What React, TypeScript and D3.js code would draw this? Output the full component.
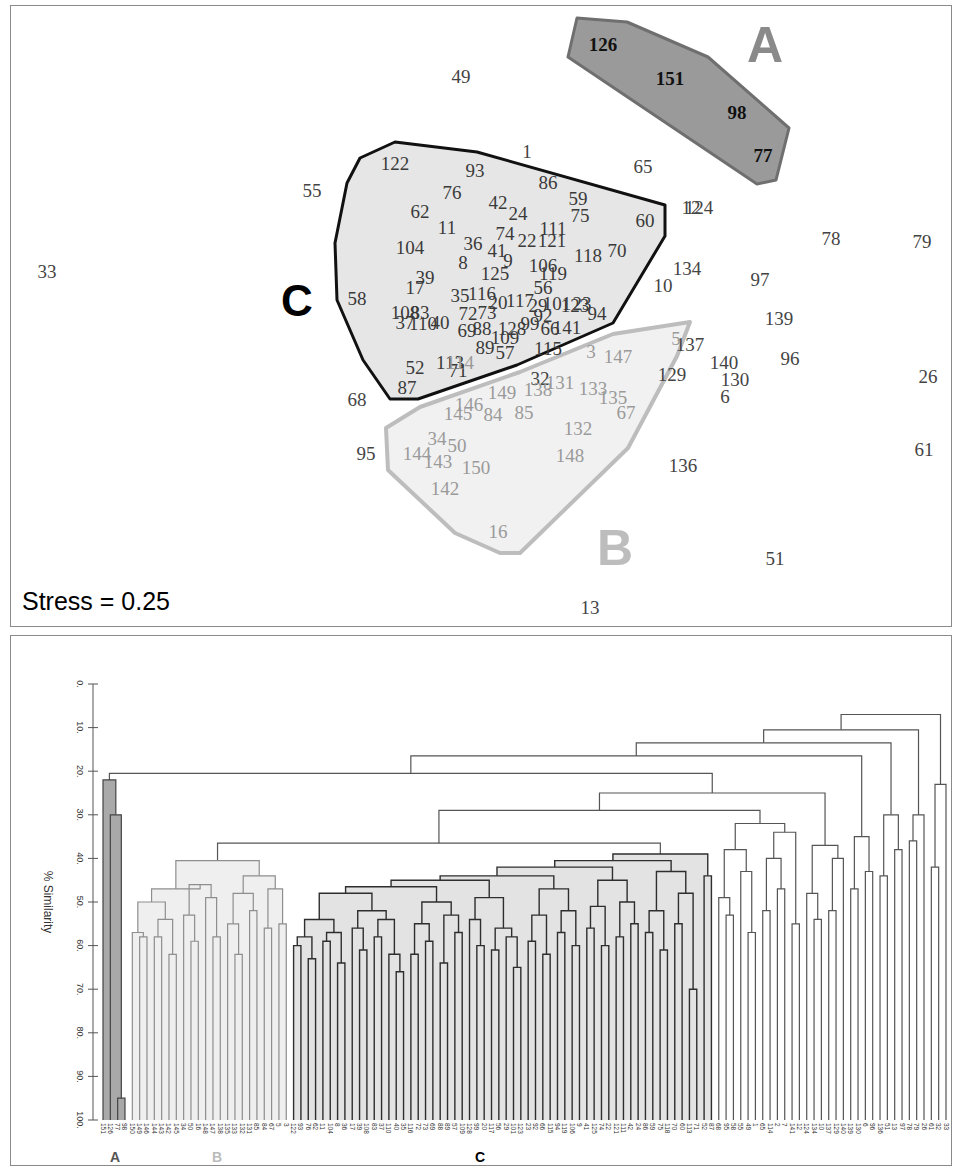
import * as React from 'react';
import * as d3 from 'd3';

// ---- MDS ordination scores (arbitrary units): label, dim1, dim2 ----
const mdsOther: [string, number, number][] = [
  ['49', -10.5, 120], ['1', 22.5, 82.5], ['65', 80.5, 75], ['55', -85, 63],
  ['33', -217.5, 22.5], ['12', 104.5, 54.5], ['124', 108.5, 54.5], ['78', 174.5, 39],
  ['79', 220, 37.5], ['97', 139, 18.5], ['134', 102.5, 24], ['10', 90.5, 15.5],
  ['139', 148.5, -1], ['137', 104, -14], ['140', 121, -23], ['96', 154, -21],
  ['130', 126.5, -31.5], ['6', 121.5, -40], ['129', 95, -29], ['26', 223, -30],
  ['61', 221, -66.5], ['136', 100.5, -74.5], ['51', 146.5, -121], ['13', 54, -145.5],
  ['68', -62.5, -41.5], ['95', -58, -68.5], ['32', 29, -31],
];
const mdsA: [string, number, number][] = [
  ['126', 60.5, 136], ['151', 94, 119], ['98', 127.5, 102], ['77', 140.5, 80.5],
];
const mdsB: [string, number, number][] = [
  ['5', 97, -11], ['3', 54.5, -17.5], ['147', 68, -20], ['149', 10, -38],
  ['138', 28, -36.5], ['131', 39, -33], ['133', 55.5, -36], ['135', 65.5, -40.5],
  ['146', -6.5, -44], ['145', -12, -48.5], ['84', 5.5, -49], ['85', 21, -48],
  ['67', 72, -48], ['34', -22.5, -61], ['50', -12.5, -64.5], ['132', 48, -56],
  ['144', -32.5, -68.5], ['143', -22, -72.5], ['150', -3, -75.5], ['148', 44, -69.5],
  ['142', -18.5, -86], ['16', 8, -107.5], ['114', -11, -23],
];
const mdsC: [string, number, number][] = [
  ['122', -43.5, 76.5], ['93', -3.5, 73], ['76', -15, 62], ['86', 33, 67],
  ['62', -31, 52.5], ['42', 8, 57], ['24', 18, 51.5], ['59', 48, 59],
  ['75', 49, 50.5], ['60', 81.5, 48], ['11', -17.5, 44.5], ['74', 11.5, 41.5],
  ['22', 22.5, 38], ['121', 35, 38], ['111', 35.5, 44], ['104', -36, 34.5],
  ['36', -4.5, 36.5], ['41', 7.5, 33], ['9', 13, 28], ['118', 53, 30.5],
  ['70', 67.5, 33], ['8', -9.5, 27], ['125', 6.5, 21.5], ['106', 30.5, 25.5],
  ['119', 35.5, 21.5], ['17', -33.5, 14.5], ['39', -28.5, 19.5], ['58', -62.5, 9],
  ['35', -11, 10.5], ['116', 0, 11.5], ['20', 8, 7], ['117', 19, 8],
  ['56', 30.5, 14.5], ['29', 28, 5.5], ['101', 37.5, 6.5], ['123', 46.5, 5.5],
  ['23', 50, 6.5], ['94', 57.5, 1.5], ['108', -38.5, 2], ['83', -31, 2],
  ['37', -38.5, -3], ['110', -29.5, -3.5], ['40', -21, -3], ['72', -7, 1.5],
  ['73', 2.5, 2], ['69', -7.5, -7], ['88', 0, -6], ['128', 15, -6],
  ['99', 24, -3.5], ['109', 11.5, -10.5], ['92', 30.5, 0.5], ['66', 34, -6],
  ['141', 42.5, -5.5], ['89', 1.5, -15.5], ['57', 11.5, -18], ['115', 33, -16],
  ['52', -33.5, -25.5], ['113', -16, -23], ['71', -12, -27], ['87', -37.5, -35.5],
];

// outlines drawn round the groups (same units)
const hullA: [number, number][] = [
  [47.5, 149], [72.5, 147], [113, 129.5], [153.5, 94], [147, 68], [137.5, 66], [43, 129.5],
];
const hullB: [number, number][] = [
  [-48, -56], [-31, -45.5], [19, -28], [65.5, -9], [104, -3], [97.5, -20], [73, -66],
  [19, -118.5], [9, -118.5], [-13.5, -108.5], [-47, -77],
];
const hullC: [number, number][] = [
  [-43.5, 87], [-2.5, 82], [91.5, 55.5], [91.5, 40], [65.5, -3.5], [17.5, -24.5],
  [-32, -41.5], [-46, -41.5], [-59.5, -22], [-72.5, 8], [-73.5, 36.5], [-67.5, 66.5], [-61, 79],
];
const groupLetters: [string, number, number][] = [['A', 141.5, 135.5], ['B', 66.5, -116], ['C', -92.5, 8]];

// ---- cluster dendrogram: [% similarity, child, child] ----
const groupA: any = [22, '151', [30, '126', [95, '77', '98']]];
const groupB: any = [40.5,
  [47,
    [50, [57, '150', [58, '149', '146']], [54, [58, '144', '143'], [62, '142', '145']]],
    [46, [53, '34', [59, '50', '16']], [49, '148', [58, '147', '138']]]],
  [44,
    [48, [55, '135', [62, '133', '132']], [52, '131', '85']],
    [47, [56, '84', '67'], [55, '5', '3']]]];
const clusterC1: any = [54, [58, [60, '122', '93'], [63, '76', '62']], [57, [59, '11', '104'], [64, '8', '36']]];
const clusterC2: any = [52, [56, '17', [61, '39', '108']], [54, [58, '83', '37'], [62, '110', [66, '40', '35']]]];
const clusterC3: any = [50, [55, [62, '116', '72'], [59, '73', '69']], [53, [64, '88', '89'], [57, '57', '109']]];
const clusterC4: any = [49, [54, '128', [60, '99', '20']], [56, [61, '117', '56'], [58, '29', [65, '101', '123']]]];
const clusterC5: any = [47, [53, [59, '23', '92'], [62, '66', '115']], [52, [57, '94', '119'], [60, '106', '9']]];
const clusterC6: any = [45, [51, [56, '41', '125'], [60, '74', '22']], [50, [58, '121', '111'], [55, '42', '24']]];
const clusterC7: any = [43, [52, [57, '86', '59'], [61, '75', '118']], [48, [55, '70', '60'], [70, '113', '71']]];
const clusterC8: any = [44, '52', '87'];
const groupC: any = [39,
  [40.5,
    [42,
      [44,
        [45,
          [46.5, [48, clusterC1, clusterC2], clusterC3],
          clusterC4],
        clusterC5],
      clusterC6],
    clusterC7],
  clusterC8];
const groupO1: any = [32,
  [38, [49, '68', [53, '95', '58']], [43, '55', [57, '49', '1']]],
  [34, [40, [52, '65', '114'], [47, '2', '7']], [55, '141', '12']]];
const groupO2: any = [37, [48, '124', [54, '134', '10']], [40, [52, '137', '129'], '140']];
const groupO3: any = [35, [47, '139', '130'], [43, '6', '96']];
const groupO4: any = [30, [44, '136', '51'], [38, '13', '97']];
const groupO5: any = [30, [36, '78', '79'], '26'];
const groupO6: any = [23, [42, '61', '32'], '33'];
const treeSpec: any = [7,
  [10.5,
    [13.5,
      [16.5,
        [20.5, groupA, [25, [29, [36.5, groupB, groupC], groupO1], groupO2]],
        groupO3],
      groupO4],
    groupO5],
  groupO6];
const simTicks = [0, 10, 20, 30, 40, 50, 60, 70, 80, 90, 100];

const groupTags = new Map<any, string>([[groupA, 'A'], [groupB, 'B'], [groupC, 'C']]);
function build(spec: any, tag?: string): any {
  if (typeof spec === 'string') return { name: spec, sim: 100, tag };
  const t = groupTags.get(spec) ?? tag;
  return { sim: spec[0], tag: t, children: spec.slice(1).map((s: any) => build(s, t)) };
}

const serif = "'Liberation Serif', 'Times New Roman', serif";
const sans = "'Liberation Sans', Arial, sans-serif";

export default function App() {
  const W = 956, H = 1168;
  const mx = d3.scaleLinear().domain([-235, 235]).range([12, 952]);
  const my = d3.scaleLinear().domain([-155.5, 155.5]).range([627, 5]);
  const poly = (pts: [number, number][]) => pts.map(p => `${mx(p[0])},${my(p[1])}`).join(' ');

  const root: any = d3.hierarchy(build(treeSpec));
  const leaves = root.leaves();
  const dx = d3.scalePoint<string>().domain(leaves.map((d: any) => d.data.name)).range([103, 946]);
  const dy = d3.scaleLinear().domain([0, 100]).range([684, 1120]);
  root.eachAfter((n: any) => {
    n.px = n.children ? (n.children[0].px + n.children[n.children.length - 1].px) / 2 : dx(n.data.name);
    n.py = dy(n.data.sim);
  });
  const internals = root.descendants().filter((n: any) => n.children);
  const fillCol: any = { A: '#a9a9a9', B: '#efefef', C: '#e3e3e3' };
  const lineCol: any = { A: '#444', B: '#8e8e8e', C: '#2e2e2e' };

  const labelSet = (data: [string, number, number][], fill: string, weight = 'normal') =>
    data.map(([t, u, v]) => (
      <text key={t + u} x={mx(u)} y={my(v)} fill={fill} fontWeight={weight}
        textAnchor="middle" dominantBaseline="central" fontFamily={serif} fontSize={19}>{t}</text>
    ));

  return (
    <svg width={W} height={H} style={{ position: 'absolute', left: 0, top: 0, background: '#fff' }}>
      {/* ---------- MDS panel ---------- */}
      <rect x={10.5} y={5.5} width={941} height={621} fill="#fff" stroke="#8a8a8a" />
      <polygon points={poly(hullB)} fill="#f1f1f1" stroke="#bdbdbd" strokeWidth={4} strokeLinejoin="round" />
      <polygon points={poly(hullC)} fill="#e6e6e6" stroke="#111" strokeWidth={3} strokeLinejoin="round" />
      <polygon points={poly(hullA)} fill="#9a9a9a" stroke="#6f6f6f" strokeWidth={3} strokeLinejoin="round" />
      {labelSet(mdsOther, '#444')}
      {labelSet(mdsC, '#3a3a3a')}
      {labelSet(mdsB, '#9a9a9a')}
      {labelSet(mdsA, '#111', 'bold')}
      {groupLetters.map(([t, u, v]) => (
        <text key={t} x={mx(u)} y={my(v)} textAnchor="middle" dominantBaseline="central"
          fontFamily={sans} fontWeight="bold" fontSize={t === 'C' ? 44 : 50}
          fill={t === 'A' ? '#8a8a8a' : t === 'B' ? '#bdbdbd' : '#000'}>{t}</text>
      ))}
      <text x={22} y={610} fontFamily={sans} fontSize={25} fill="#000">Stress = 0.25</text>

      {/* ---------- dendrogram panel ---------- */}
      <rect x={10.5} y={635.5} width={941} height={530} fill="#fff" stroke="#8a8a8a" />
      {internals.filter((n: any) => n.data.tag).map((n: any, i: number) => {
        const a = n.children[0].px, b = n.children[n.children.length - 1].px;
        return <rect key={'f' + i} x={a} y={n.py} width={b - a} height={dy(100) - n.py} fill={fillCol[n.data.tag]} />;
      })}
      {internals.map((n: any, i: number) => {
        const c0 = n.children[0], c1 = n.children[n.children.length - 1];
        const tag = n.data.tag;
        return (
          <path key={'l' + i} d={`M${c0.px},${c0.py}V${n.py}H${c1.px}V${c1.py}`}
            fill="none" stroke={tag ? lineCol[tag] : '#555'} strokeWidth={tag === 'C' ? 1.4 : 1.2} />
        );
      })}
      {/* axis */}
      <line x1={93} x2={93} y1={dy(0)} y2={dy(100)} stroke="#555" />
      {simTicks.map(t => (
        <g key={t}>
          <line x1={88} x2={98} y1={dy(t)} y2={dy(t)} stroke="#555" />
          <text transform={`translate(80,${dy(t)}) rotate(90)`} textAnchor="middle" dominantBaseline="central"
            fontFamily={sans} fontSize={9} fill="#333">{t}.</text>
        </g>
      ))}
      <text transform={`translate(48,${(dy(0) + dy(100)) / 2}) rotate(90)`} textAnchor="middle"
        dominantBaseline="central" fontFamily={sans} fontSize={12} fill="#333">% Similarity</text>
      {leaves.map((l: any) => (
        <text key={'t' + l.data.name} transform={`translate(${l.px},${dy(100) + 3}) rotate(90)`}
          dominantBaseline="central" fontFamily={sans} fontSize={6.5} fill="#333">{l.data.name}</text>
      ))}
      <text x={115} y={1162} textAnchor="middle" fontFamily={sans} fontWeight="bold" fontSize={14} fill="#555">A</text>
      <text x={217} y={1162} textAnchor="middle" fontFamily={sans} fontWeight="bold" fontSize={14} fill="#bbb">B</text>
      <text x={480} y={1162} textAnchor="middle" fontFamily={sans} fontWeight="bold" fontSize={14} fill="#000">C</text>
    </svg>
  );
}
